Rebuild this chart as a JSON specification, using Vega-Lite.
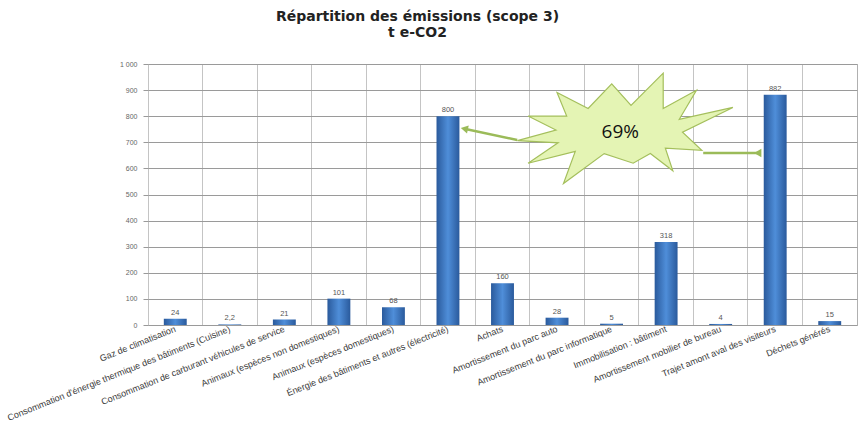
{
  "$schema": "https://vega.github.io/schema/vega-lite/v6.json",
  "width": 709,
  "height": 261,
  "autosize": {"type": "none"},
  "padding": {"left": 148, "top": 64, "right": 6, "bottom": 105},
  "background": "white",
  "config": {
    "font": "Liberation Sans",
    "view": {"stroke": "#b0b0b0", "strokeWidth": 1},
    "locale": {"number": {"decimal": ",", "thousands": " ", "grouping": [3], "currency": ["", " €"]}}
  },
  "title": {
    "text": ["Répartition des émissions (scope 3)", "t e-CO2"],
    "fontSize": 14,
    "fontWeight": "bold",
    "font": "DejaVu Sans",
    "color": "#222222",
    "lineHeight": 16,
    "anchor": "middle",
    "frame": "group",
    "dx": -85,
    "offset": 20
  },
  "data": {
    "values": [
      {"cat": "Gaz de climatisation", "value": 24},
      {"cat": "Consommation d'énergie thermique des bâtiments (Cuisine)", "value": 2.2},
      {"cat": "Consommation de carburant véhicules de service", "value": 21},
      {"cat": "Animaux (espèces non domestiques)", "value": 101},
      {"cat": "Animaux (espèces domestiques)", "value": 68},
      {"cat": "Énergie des bâtiments et autres (électricité)", "value": 800},
      {"cat": "Achats", "value": 160},
      {"cat": "Amortissement du parc auto", "value": 28},
      {"cat": "Amortissement du parc informatique", "value": 5},
      {"cat": "Immobilisation : bâtiment", "value": 318},
      {"cat": "Amortissement mobilier de bureau", "value": 4},
      {"cat": "Trajet amont aval des visiteurs", "value": 882},
      {"cat": "Déchets générés", "value": 15}
    ]
  },
  "layer": [
    {
      "layer": [
        {
          "mark": {
            "type": "bar",
            "width": {"band": 0.42},
            "color": {
              "gradient": "linear", "x1": 0, "x2": 1, "y1": 0, "y2": 0,
              "stops": [
                {"offset": 0, "color": "#2a5a9c"},
                {"offset": 0.5, "color": "#4f8ed9"},
                {"offset": 1, "color": "#2a5a9c"}
              ]
            }
          },
          "encoding": {
            "x": {
              "field": "cat", "type": "nominal", "sort": null,
              "scale": {"paddingInner": 0, "paddingOuter": 0},
              "axis": {
                "title": null,
                "labelAngle": -22,
                "labelAlign": "right",
                "labelBaseline": "middle",
                "labelFontSize": 9,
                "labelColor": "#3a3a3a",
                "labelLimit": 0,
                "labelOverlap": false,
                "labelPadding": 3,
                "ticks": false,
                "domain": false,
                "grid": true,
                "bandPosition": 0,
                "gridColor": "#c4c4c4",
                "gridWidth": 1
              }
            },
            "y": {
              "field": "value", "type": "quantitative",
              "scale": {"domain": [0, 1000], "nice": false},
              "axis": {"title": null, "values": [0, 100, 200, 300, 400, 500, 600, 700, 800, 900, 1000], "format": ",d", "labelFontSize": 7, "labelColor": "#666666", "labelPadding": 6, "tickSize": 5, "tickColor": "#999999", "domain": false, "gridColor": "#9a9a9a", "gridWidth": 1}
            }
          }
        },
        {
          "mark": {"type": "text", "dy": -6, "fontSize": 7.5, "color": "#555555"},
          "encoding": {
            "x": {"field": "cat", "type": "nominal", "sort": null},
            "y": {"field": "value", "type": "quantitative",
              "axis": {"title": null, "values": [0, 100, 200, 300, 400, 500, 600, 700, 800, 900, 1000], "format": ",d", "labelFontSize": 7, "labelColor": "#666666", "labelPadding": 6, "tickSize": 5, "tickColor": "#999999", "domain": false, "gridColor": "#9a9a9a", "gridWidth": 1}},
            "text": {"field": "value", "type": "quantitative", "format": ","}
          }
        }
      ]
    },
    {
      "data": {
        "values": [
          {"ax": 6.77, "ay": 709, "ax2": 5.8, "ay2": 752, "angle": 12},
          {"ax": 10.18, "ay": 659, "ax2": 11.18, "ay2": 659, "angle": 0}
        ]
      },
      "layer": [
        {
          "mark": {"type": "rule", "color": "#9bbb59", "strokeWidth": 2.5},
          "encoding": {
            "x": {"field": "ax", "type": "quantitative", "scale": {"domain": [0, 13], "nice": false, "zero": false}, "axis": null},
            "y": {"field": "ay", "type": "quantitative",
              "axis": {"title": null, "values": [0, 100, 200, 300, 400, 500, 600, 700, 800, 900, 1000], "format": ",d", "labelFontSize": 7, "labelColor": "#666666", "labelPadding": 6, "tickSize": 5, "tickColor": "#999999", "domain": false, "gridColor": "#9a9a9a", "gridWidth": 1}},
            "x2": {"field": "ax2"},
            "y2": {"field": "ay2"}
          }
        },
        {
          "mark": {"type": "point", "shape": "triangle-left", "filled": true, "color": "#9bbb59", "size": 70, "opacity": 1},
          "encoding": {
            "x": {"field": "ax2", "type": "quantitative", "scale": {"domain": [0, 13], "nice": false, "zero": false}, "axis": null},
            "y": {"field": "ay2", "type": "quantitative",
              "axis": {"title": null, "values": [0, 100, 200, 300, 400, 500, 600, 700, 800, 900, 1000], "format": ",d", "labelFontSize": 7, "labelColor": "#666666", "labelPadding": 6, "tickSize": 5, "tickColor": "#999999", "domain": false, "gridColor": "#9a9a9a", "gridWidth": 1}},
            "angle": {"field": "angle", "type": "quantitative", "scale": null}
          }
        }
      ]
    },
    {
      "data": {"values": [{"ax": 8.66, "ay": 739, "label": "69%"}]},
      "layer": [
        {
          "mark": {
            "type": "point",
            "shape": "M-0.96,0.08L-0.6,-0.02L-0.86,-0.15L-0.5,-0.15L-0.59,-0.37L-0.3,-0.22L-0.08,-0.45L0.1,-0.25L0.4,-0.55L0.4,-0.22L0.71,-0.39L0.55,-0.12L1.05,-0.23L0.58,0.0L0.76,0.17L0.42,0.15L0.49,0.36L0.28,0.2L0.12,0.29L-0.15,0.2L-0.53,0.48L-0.42,0.18L-0.86,0.29L-0.58,0.1Z",
            "filled": true,
            "fill": "#e4f4b4",
            "stroke": "#a4bf5c",
            "strokeWidth": 1.2,
            "size": 46000,
            "opacity": 1
          },
          "encoding": {
            "x": {"field": "ax", "type": "quantitative", "scale": {"domain": [0, 13], "nice": false, "zero": false}, "axis": null},
            "y": {"field": "ay", "type": "quantitative",
              "axis": {"title": null, "values": [0, 100, 200, 300, 400, 500, 600, 700, 800, 900, 1000], "format": ",d", "labelFontSize": 7, "labelColor": "#666666", "labelPadding": 6, "tickSize": 5, "tickColor": "#999999", "domain": false, "gridColor": "#9a9a9a", "gridWidth": 1}}
          }
        },
        {
          "mark": {"type": "text", "fontSize": 19, "font": "Open Sans", "color": "#111111", "baseline": "middle"},
          "encoding": {
            "x": {"field": "ax", "type": "quantitative", "scale": {"domain": [0, 13], "nice": false, "zero": false}, "axis": null},
            "y": {"field": "ay", "type": "quantitative",
              "axis": {"title": null, "values": [0, 100, 200, 300, 400, 500, 600, 700, 800, 900, 1000], "format": ",d", "labelFontSize": 7, "labelColor": "#666666", "labelPadding": 6, "tickSize": 5, "tickColor": "#999999", "domain": false, "gridColor": "#9a9a9a", "gridWidth": 1}},
            "text": {"field": "label"}
          }
        }
      ]
    }
  ],
  "resolve": {"scale": {"x": "independent"}}
}
